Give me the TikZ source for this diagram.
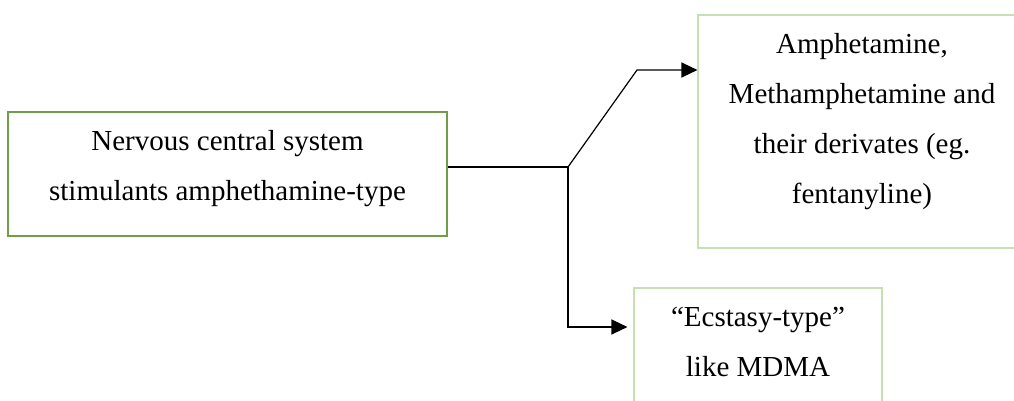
\documentclass[tikz,border=0pt]{standalone}
\usepackage{fontspec}
\setmainfont{Liberation Serif}
\usetikzlibrary{arrows.meta}
\definecolor{darkgr}{HTML}{6FA048}
\definecolor{lightgr}{HTML}{C6E0B4}
\begin{document}
\begin{tikzpicture}[x=1pt,y=-1pt,
  box/.style={draw, rectangle, inner sep=0pt, line width=1.1pt},
  txt/.style={align=center, inner sep=0pt, font=\fontsize{29pt}{50pt}\selectfont},
  conn/.style={line width=1.2pt, black},
  tip/.style={-{Triangle[length=16pt,width=15pt]}}]
\useasboundingbox (0,0) rectangle (1014,401);
\clip (0,0) rectangle (1014,401);
\fill[white] (0,0) rectangle (1014,401);
% boxes
\node[box, draw=darkgr, minimum width=439pt, minimum height=124pt] (a) at (227.5,174) {};
\node[box, draw=lightgr, minimum width=328pt, minimum height=233pt] (b) at (862,131.5) {};
\node[box, draw=lightgr, minimum width=248pt, minimum height=132pt] (c) at (758,354) {};
% texts
\node[txt] (ta) at (227.5,168.3) {Nervous central system\\stimulants amphethamine-type};
\node[txt] (tb) at (862,121.3) {Amphetamine,\\Methamphetamine and\\their derivates (eg.\\fentanyline)};
\node[txt] (tc) at (758,342.2) {“Ecstasy-type”\\like MDMA};
% connectors
\coordinate (j) at (568,167);
\coordinate (k) at (637,70);
\coordinate (m) at (568,327);
\draw[conn] (a.east |- j) -- (j);
\draw[conn, tip] (j) -- (k) -- (k -| b.west);
\draw[conn, tip] (j) -- (m) -- ([xshift=-6pt]c.west |- m);
\end{tikzpicture}
\end{document}
